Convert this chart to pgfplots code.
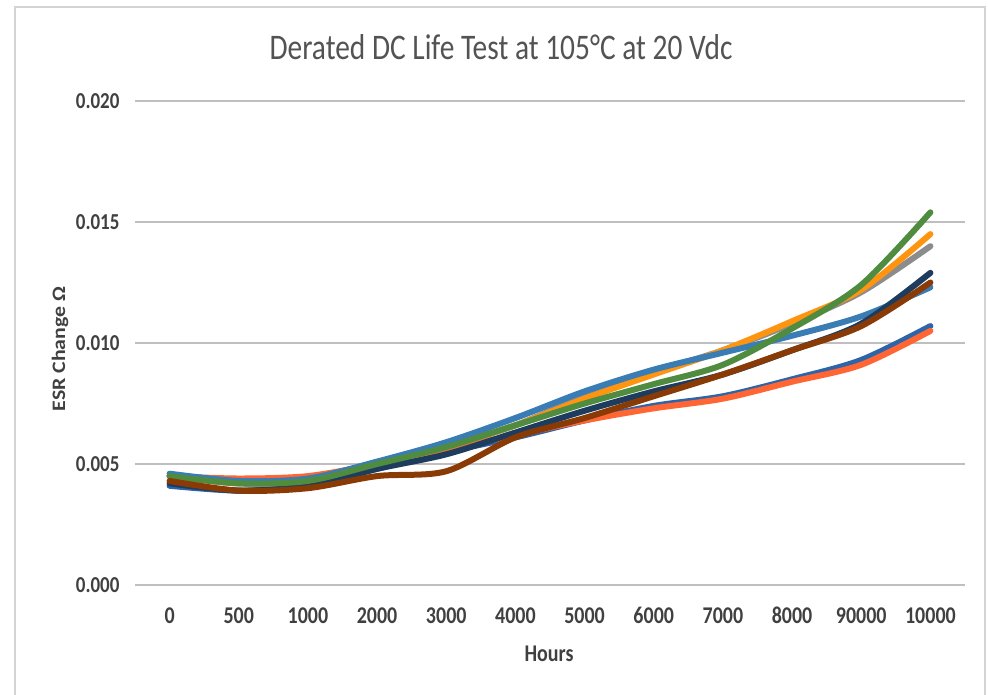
\documentclass[border=0pt]{standalone}
\usepackage{pgfplots}
\pgfplotsset{compat=1.18}
\usepackage{fontspec}
\setmainfont{Carlito}
\definecolor{cSteel}{HTML}{3A7DB5}
\definecolor{cThin}{HTML}{2E64A8}
\definecolor{cRed}{HTML}{FF6633}
\definecolor{cGray}{HTML}{8C8C8C}
\definecolor{cOrange}{HTML}{FF9410}
\definecolor{cNavy}{HTML}{1E3D5E}
\definecolor{cGreen}{HTML}{4F8C3F}
\definecolor{cBrown}{HTML}{8A3A05}
\definecolor{cGrid}{HTML}{BFBFBF}
\definecolor{cText}{HTML}{404040}
\definecolor{cFrame}{HTML}{D4D4D4}
\begin{document}
\begin{tikzpicture}
\useasboundingbox (0pt,0pt) rectangle (988pt,695pt);
\draw[cFrame,line width=2pt] (15pt,0pt) -- (15pt,688pt) -- (985pt,688pt) -- (985pt,0pt);
\begin{axis}[
  at={(135pt,110pt)}, anchor=south west,
  scale only axis, width=830pt, height=484pt,
  xmin=-0.5, xmax=11.5, ymin=0, ymax=0.020,
  xtick={0,...,11},
  xticklabels={0,500,1000,2000,3000,4000,5000,6000,7000,8000,90000,10000},
  ytick={0,0.005,0.010,0.015,0.020},
  scaled y ticks=false,
  yticklabel style={/pgf/number format/fixed, /pgf/number format/zerofill, /pgf/number format/precision=3,
    font=\fontsize{19}{22}\selectfont\bfseries, anchor=east, xshift=-12pt, yscale=1.2, transform shape},
  /pgf/number format/assume math mode=true,
  ymajorgrids, grid style={cGrid, line width=1.2pt},
  axis line style={draw=none},
  major tick length=0pt,
  tick label style={text=cText},
  xticklabel style={font=\fontsize{20}{24}\selectfont\bfseries, anchor=center, text height=10pt, text depth=0pt, yshift=-33pt, yscale=1.2, transform shape},
  clip=false,
  every axis plot/.append style={line width=6pt, smooth, tension=0.5, line cap=round, line join=round, mark=none},
]
\addplot[cThin] coordinates {(0,0.0041)(1,0.0039)(2,0.0041)(3,0.0048)(4,0.0055)(5,0.0061)(6,0.0068)(7,0.0074)(8,0.0078)(9,0.0085)(10,0.0093)(11,0.0107)};
\addplot[cRed] coordinates {(0,0.0045)(1,0.0044)(2,0.0045)(3,0.0050)(4,0.0056)(5,0.0062)(6,0.0068)(7,0.0073)(8,0.0077)(9,0.0084)(10,0.0091)(11,0.0105)};
\addplot[cGray] coordinates {(0,0.0045)(1,0.0042)(2,0.0043)(3,0.0050)(4,0.0057)(5,0.0066)(6,0.0078)(7,0.0088)(8,0.0097)(9,0.0108)(10,0.0121)(11,0.0140)};
\addplot[cOrange] coordinates {(0,0.0045)(1,0.0042)(2,0.0043)(3,0.0050)(4,0.0057)(5,0.0066)(6,0.0077)(7,0.0087)(8,0.0097)(9,0.0109)(10,0.0122)(11,0.0145)};
\addplot[cSteel] coordinates {(0,0.0046)(1,0.0043)(2,0.0044)(3,0.0051)(4,0.0059)(5,0.0069)(6,0.0080)(7,0.0089)(8,0.0096)(9,0.0103)(10,0.0111)(11,0.0123)};
\addplot[cNavy] coordinates {(0,0.0042)(1,0.0039)(2,0.0041)(3,0.0048)(4,0.0054)(5,0.0063)(6,0.0072)(7,0.0080)(8,0.0087)(9,0.0097)(10,0.0108)(11,0.0129)};
\addplot[cGreen] coordinates {(0,0.0045)(1,0.0042)(2,0.0043)(3,0.0050)(4,0.0057)(5,0.0066)(6,0.0075)(7,0.0083)(8,0.0091)(9,0.0106)(10,0.0124)(11,0.0154)};
\addplot[cBrown] coordinates {(0,0.0043)(1,0.0039)(2,0.0040)(3,0.0045)(4,0.0047)(5,0.0061)(6,0.0069)(7,0.0078)(8,0.0087)(9,0.0097)(10,0.0107)(11,0.0125)};
\end{axis}
\node[font=\fontsize{30}{36}\selectfont, text=cText!90, xscale=0.98, yscale=1.2, transform shape] at (501pt,648pt) {Derated DC Life Test at 105°C at 20 Vdc};
\node[font=\fontsize{19}{22}\selectfont\bfseries, text=cText, rotate=90, xscale=1.15, transform shape] at (60pt,346pt) {ESR Change Ω};
\node[font=\fontsize{20}{24}\selectfont\bfseries, text=cText, yscale=1.2, transform shape] at (549pt,41pt) {Hours};
\end{tikzpicture}
\end{document}
